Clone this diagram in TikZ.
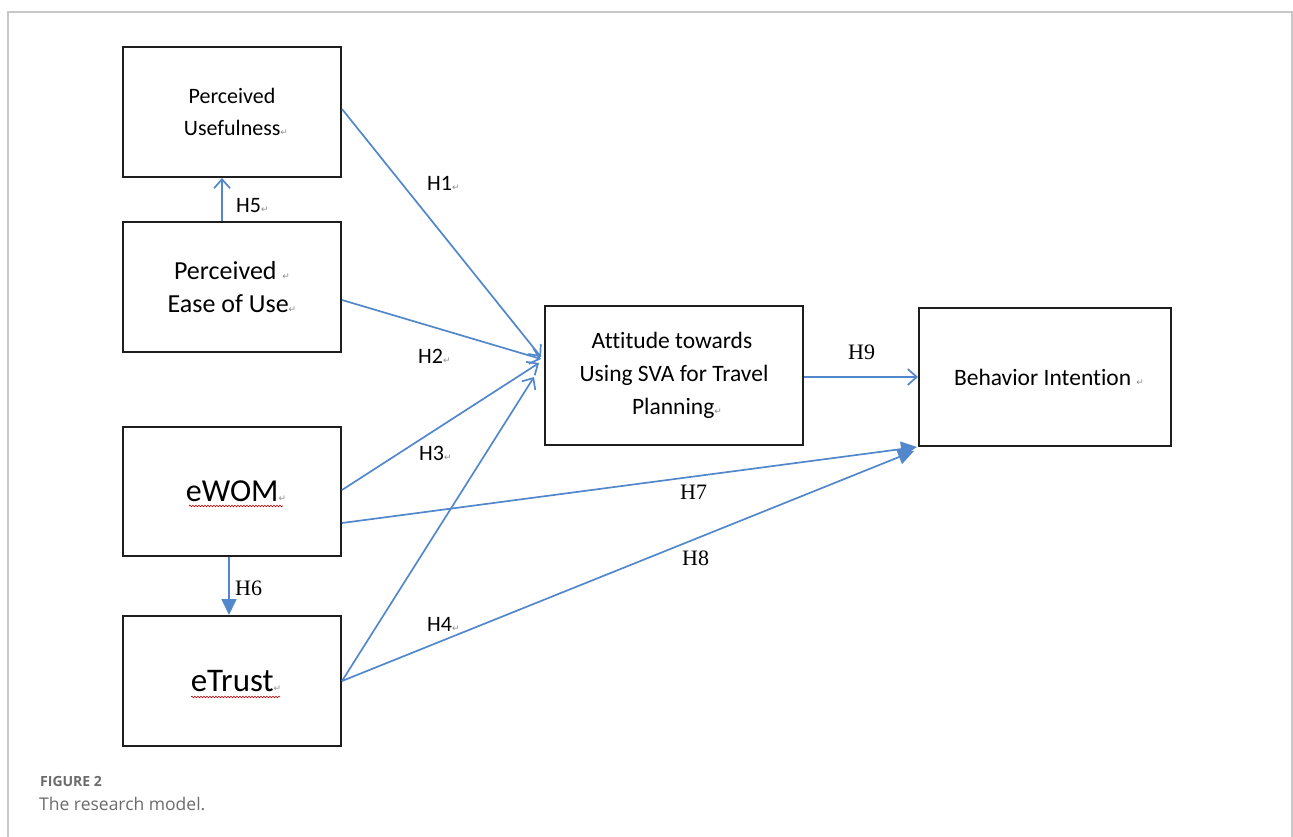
\documentclass[tikz,border=0pt]{standalone}
\usepackage{fontspec}
\setmainfont{Carlito}[Ligatures={TeX,NoCommon}]
\newfontfamily\tnrfont{Liberation Serif}
\newfontfamily\symfont{DejaVu Sans}
\newfontfamily\capfont{Open Sans}
\usetikzlibrary{arrows.meta,decorations.pathmorphing,calc}
\definecolor{arrowblue}{HTML}{5387CB}
\definecolor{framegrey}{HTML}{C8C8C8}
\definecolor{boxline}{HTML}{1E1E1E}
\newcommand{\pmark}{{\symfont\fontsize{9}{9}\selectfont\color{black!45}↵}}
\begin{document}
\begin{tikzpicture}[x=1pt,y=-1pt,
  box/.style={draw=boxline, line width=2pt, rectangle, inner sep=0pt, align=center, text=black},
  openarr/.style={draw=arrowblue, line width=1.7pt, -{Straight Barb[length=9pt,width=16pt,line width=1.7pt]}},
  fillarr/.style={draw=arrowblue, line width=1.7pt, -{Triangle[length=16pt,width=15pt]}, fill=arrowblue},
  sanslab/.style={anchor=west, inner sep=0pt, font=\fontsize{22}{22}\selectfont, text=black},
  seriflab/.style={anchor=west, inner sep=0pt, font=\tnrfont\fontsize{22}{22}\selectfont, text=black},
  wavy/.style={draw=red!75!black, line width=0.6pt, decorate, decoration={snake, amplitude=0.8pt, segment length=3pt}}
]
\useasboundingbox (0,0) rectangle (1293,837);
% outer frame
\draw[framegrey, line width=1.5pt] (8,837) -- (8,12) -- (1292,12) -- (1292,837);

% boxes
\node[box, minimum width=218pt, minimum height=130pt, font=\fontsize{22}{32}\selectfont] (pu) at (232,112) {Perceived\\\hspace*{8pt}Usefulness\pmark};
\node[box, minimum width=218pt, minimum height=130pt, font=\fontsize{26}{33}\selectfont] (peou) at (232,287) {Perceived\ \pmark\\Ease of Use\pmark};
\node[box, minimum width=218pt, minimum height=129pt, font=\fontsize{32}{32}\selectfont] (ewom) at (232,491.5) {\hspace*{8pt}eWOM\pmark};
\node[box, minimum width=218pt, minimum height=130pt, font=\fontsize{33}{33}\selectfont] (etrust) at (232,681) {\hspace*{8pt}eTrust\pmark};
\node[box, minimum width=258pt, minimum height=139pt, font=\fontsize{23.5}{33}\selectfont] (att) at (674,375.5) {\hspace*{-4pt}Attitude towards\\Using SVA for Travel\\\hspace*{6pt}Planning\pmark};
\node[box, minimum width=252pt, minimum height=138pt, font=\fontsize{23.5}{33}\selectfont] (bi) at (1045,377) {\hspace*{8pt}Behavior Intention \pmark};

% wavy underlines
\draw[wavy] (189,506) -- (283,506);
\draw[wavy] (191,697) -- (280,697);

% connectors
\draw[openarr] (pu.east |- 0,109) -- ($(att.west |- 0,357)+(-3,0)$);
\draw[openarr] (peou.east |- 0,300) -- ($(att.west |- 0,359)+(-3,0)$);
\draw[openarr] (ewom.east |- 0,490) -- ($(att.west |- 0,363)+(-5,0)$);
\draw[openarr] (etrust.east |- 0,681) -- ($(att.west |- 0,377)+(-10,0)$);
\draw[openarr] ([xshift=-10pt]peou.north) -- ([xshift=-10pt]pu.south);
\draw[fillarr] ([xshift=-3pt]ewom.south) -- ([xshift=-3pt]etrust.north);
\draw[fillarr] (ewom.east |- 0,523) -- ($(bi.south west)+(-1,0)$);
\draw[fillarr] (etrust.east |- 0,681) -- ($(bi.south west)+(-4,4)$);
\draw[openarr] (att.east |- 0,377) -- (bi.west |- 0,377);

% labels
\node[sanslab] (l1) at (427,183) {H1\pmark};
\node[sanslab] (l2) at (418,356) {H2\pmark};
\node[sanslab] (l3) at (419,453) {H3\pmark};
\node[sanslab] (l4) at (427,624) {H4\pmark};
\node[sanslab] (l5) at (236,206) {H5\pmark};
\node[seriflab] (l6) at (235,588) {H6};
\node[seriflab] (l7) at (680,492) {H7};
\node[seriflab] (l8) at (682,558) {H8};
\node[seriflab] (l9) at (848,352) {H9};

% caption
\node[anchor=west, inner sep=0pt, font=\capfont\bfseries\fontsize{14}{14}\selectfont, text=black!58] (fig) at (40,781) {FIGURE 2};
\node[anchor=west, inner sep=0pt, font=\capfont\fontsize{17.5}{18}\selectfont, text=black!58] (cap) at (39,804) {The research model.};
\end{tikzpicture}
\end{document}
